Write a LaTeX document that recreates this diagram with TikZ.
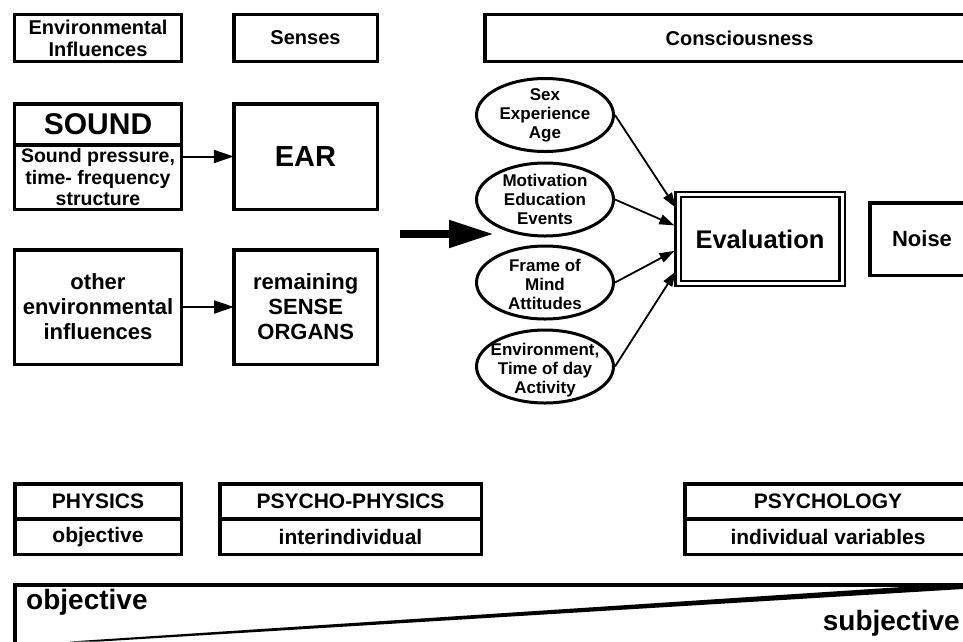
\documentclass[tikz,border=0pt]{standalone}
\usepackage{fontspec}
\setmainfont{Liberation Sans}
\usetikzlibrary{positioning}
\usetikzlibrary{arrows.meta}
\usetikzlibrary{shapes.geometric}
\usetikzlibrary{calc}
\tikzset{basic/.style={draw,line width=3.5pt,align=center,inner sep=0pt,outer sep=0pt,font=\bfseries}}
\tikzset{header/.style={basic,minimum height=47pt,font=\bfseries\fontsize{20}{22}\selectfont}}
\tikzset{source/.style={minimum width=167pt}}
\tikzset{organ/.style={minimum width=143.5pt}}
\tikzset{factor/.style={draw,ellipse,line width=3pt,minimum width=137pt,minimum height=73pt,inner sep=0pt}}
\tikzset{factortext/.style={align=center,inner sep=0pt,font=\bfseries\fontsize{17}{19}\selectfont}}
\tikzset{field/.style={basic,font=\bfseries\fontsize{21}{23}\selectfont}}
\tikzset{link/.style={line width=2pt,-{Triangle[length=20pt,width=13pt]}}}
\tikzset{influence/.style={line width=1.8pt,-{Triangle[length=15pt,width=10pt]}}}

\begin{document}
\begin{tikzpicture}[x=1pt,y=-1pt]
                \useasboundingbox (0,0) rectangle (963,641);
                \clip (0,0) rectangle (963,641);
                % headings
                \node[header,source] (env) at (98,38) {Environmental\\Influences};
                \node[header,organ] (senses) at (305.5,38) {Senses};
                \node[header,minimum width=509pt] (consc) at (739.5,38) {Consciousness};
                % sound and ear
                \node[basic,source,minimum height=41.25pt,font=\bfseries\fontsize{30}{32}\selectfont] (sound) at (98,124.4) {SOUND};
                \node[basic,source,minimum height=64.25pt,below=0pt of sound,font=\bfseries\fontsize{19.5}{21.5}\selectfont] (soundbody) {Sound pressure,\\time- frequency\\structure};
                \node[basic,organ,minimum height=105.5pt,font=\bfseries\fontsize{29}{31}\selectfont] (ear) at (305.5,156.5) {EAR};
                    \draw[link] (soundbody.east |- ear.west) -- (ear.west);
                % other influences
                \node[basic,source,minimum height=114.5pt,font=\bfseries\fontsize{22}{25}\selectfont] (other) at (98,307) {other\\environmental\\influences};
                \node[basic,organ,minimum height=114.5pt,right=52.5pt of other,font=\bfseries\fontsize{22}{25}\selectfont] (remaining) {remaining\\SENSE\\ORGANS};
                    \draw[link] (other) -- (remaining);
                \coordinate (bigtail) at (400,234);
                \coordinate (bighead) at (494,234);
                    \draw[line width=8pt,-{Triangle[length=45pt,width=26pt]}] (bigtail) -- (bighead);
                % individual factors
                \node[factor] (sex) at (545,115) {};
                \node[factortext] (sextext) at (sex) {Sex\\Experience\\Age};
                \node[factor] (motiv) at (545,199.5) {};
                \node[factortext] (motivtext) at (motiv) {Motivation\\Education\\Events};
                \node[factor] (frame) at (545,282.5) {};
                \node[factortext] (frametext) at ($(frame)+(0,2)$) {Frame of\\Mind\\Attitudes};
                \node[factor] (envir) at (545,366.5) {};
                \node[factortext] (envirtext) at ($(envir)+(0,4)$) {Environment,\\Time of day\\Activity};
                % evaluation
                \node[basic,line width=2.4pt,double,double distance=3pt,minimum width=164pt,minimum height=89pt,font=\bfseries\fontsize{25.5}{28}\selectfont] (eval) at (760,239) {Evaluation};
                \node[basic,minimum width=104.5pt,minimum height=72.5pt,right=27.75pt of eval,font=\bfseries\fontsize{22}{24}\selectfont] (noise) {Noise};
                    \draw[influence,shorten >=4pt] (sex.east) -- ($(eval.west)+(0,-28)$);
                    \draw[influence,shorten >=4pt] (motiv.east) -- ($(eval.west)+(0,-12)$);
                    \draw[influence,shorten >=4pt] (frame.east) -- ($(eval.west)+(0,10)$);
                    \draw[influence,shorten >=4pt] (envir.east) -- ($(eval.west)+(0,29)$);
                % disciplines
                \node[field,minimum width=166.5pt,minimum height=35.25pt] (physics) at (98,501.4) {PHYSICS};
                \node[field,minimum width=166.5pt,minimum height=35.5pt,below=0pt of physics] (physicsobj) {objective};
                \node[field,minimum width=261.5pt,minimum height=35.25pt] (psychophys) at (350.5,501.4) {PSYCHO-PHYSICS};
                \node[field,minimum width=261.5pt,minimum height=35.5pt,below=0pt of psychophys] (psychophysint) {interindividual};
                \node[field,minimum width=286.5pt,minimum height=35.25pt] (psychology) at (828,501.4) {PSYCHOLOGY};
                \node[field,minimum width=286.5pt,minimum height=35.5pt,below=0pt of psychology] (psychologyind) {individual variables};
                % objective - subjective wedge
                \draw[line width=3.5pt] (14.75,650) -- (14.75,584.75) -- (980,584.75);
                \fill (70,641.5) -- (963,583) -- (963,589) -- (100,641.5) -- cycle;
                \node[anchor=base west,inner sep=0pt,font=\bfseries\fontsize{28}{30}\selectfont] (objlabel) at (26,609) {objective};
                \node[anchor=base east,inner sep=0pt,font=\bfseries\fontsize{28}{30}\selectfont] (subjlabel) at (960,630) {subjective};
            \end{tikzpicture}
\end{document}
